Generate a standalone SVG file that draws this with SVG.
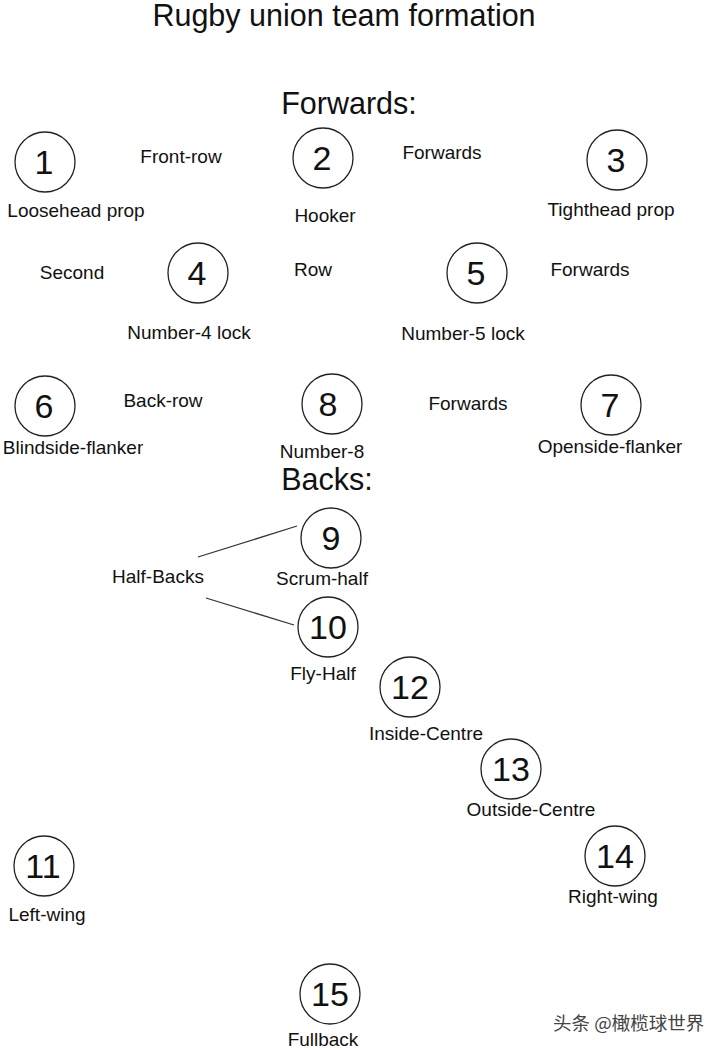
<svg xmlns="http://www.w3.org/2000/svg" width="720" height="1050" viewBox="0 0 720 1050">
<style>
text{font-family:"Liberation Sans",Arial,sans-serif;fill:#111}
.h{font-size:30.5px;text-anchor:middle}
.l{font-size:19px;text-anchor:middle}
.n{font-size:34px;text-anchor:middle}
circle{fill:#fff;stroke:#222;stroke-width:1.3}
.c line{stroke:#333;stroke-width:1.3}
.w{font-family:"Noto Sans CJK SC",sans-serif;font-size:18.5px;fill:#444}
</style>
<rect width="720" height="1050" fill="#fff"/>
<text class="h" x="344" y="26">Rugby union team formation</text>
<text class="h" x="349" y="114">Forwards:</text>
<text class="h" x="327" y="490">Backs:</text>
<g id="labels">
<text class="l" x="181" y="163">Front-row</text>
<text class="l" x="442" y="159">Forwards</text>
<text class="l" x="72" y="279">Second</text>
<text class="l" x="313" y="276">Row</text>
<text class="l" x="590" y="276">Forwards</text>
<text class="l" x="163" y="407">Back-row</text>
<text class="l" x="468" y="410">Forwards</text>
<text class="l" x="158" y="583">Half-Backs</text>
</g>
<g class="c" id="connectors">
<line x1="198" y1="557" x2="297" y2="526"/>
<line x1="206" y1="598" x2="294" y2="625"/>
</g>
<g id="p1"><circle cx="45" cy="162" r="30"/><text class="n" x="44" y="174">1</text><text class="l" x="76" y="217">Loosehead prop</text></g>
<g id="p2"><circle cx="323" cy="158" r="30"/><text class="n" x="322" y="170">2</text><text class="l" x="325" y="222">Hooker</text></g>
<g id="p3"><circle cx="617" cy="160" r="30"/><text class="n" x="616" y="172">3</text><text class="l" x="611" y="216">Tighthead prop</text></g>
<g id="p4"><circle cx="198" cy="273" r="30"/><text class="n" x="197" y="285">4</text><text class="l" x="189" y="339">Number-4 lock</text></g>
<g id="p5"><circle cx="477" cy="273" r="30"/><text class="n" x="476" y="285">5</text><text class="l" x="463" y="340">Number-5 lock</text></g>
<g id="p6"><circle cx="45" cy="406" r="30"/><text class="n" x="44" y="418">6</text><text class="l" x="73" y="454">Blindside-flanker</text></g>
<g id="p8"><circle cx="332" cy="404" r="30"/><text class="n" x="328" y="416">8</text><text class="l" x="322" y="458">Number-8</text></g>
<g id="p7"><circle cx="611" cy="405" r="30"/><text class="n" x="610" y="417">7</text><text class="l" x="610" y="453">Openside-flanker</text></g>
<g id="p9"><circle cx="331" cy="538" r="30"/><text class="n" x="331" y="550">9</text><text class="l" x="322" y="585">Scrum-half</text></g>
<g id="p10"><circle cx="328" cy="627" r="30"/><text class="n" x="328" y="639">10</text><text class="l" x="323" y="680">Fly-Half</text></g>
<g id="p12"><circle cx="410" cy="687" r="30"/><text class="n" x="410" y="699">12</text><text class="l" x="426" y="740">Inside-Centre</text></g>
<g id="p13"><circle cx="511" cy="769" r="30"/><text class="n" x="511" y="781">13</text><text class="l" x="531" y="816">Outside-Centre</text></g>
<g id="p14"><circle cx="615" cy="856" r="30"/><text class="n" x="615" y="868">14</text><text class="l" x="613" y="903">Right-wing</text></g>
<g id="p11"><circle cx="44" cy="866" r="30"/><text class="n" x="43" y="878">11</text><text class="l" x="47" y="921">Left-wing</text></g>
<g id="p15"><circle cx="330" cy="994" r="30"/><text class="n" x="330" y="1006">15</text><text class="l" x="323" y="1046">Fullback</text></g>
<text class="w" x="553" y="1030">头条 @橄榄球世界</text>
</svg>
